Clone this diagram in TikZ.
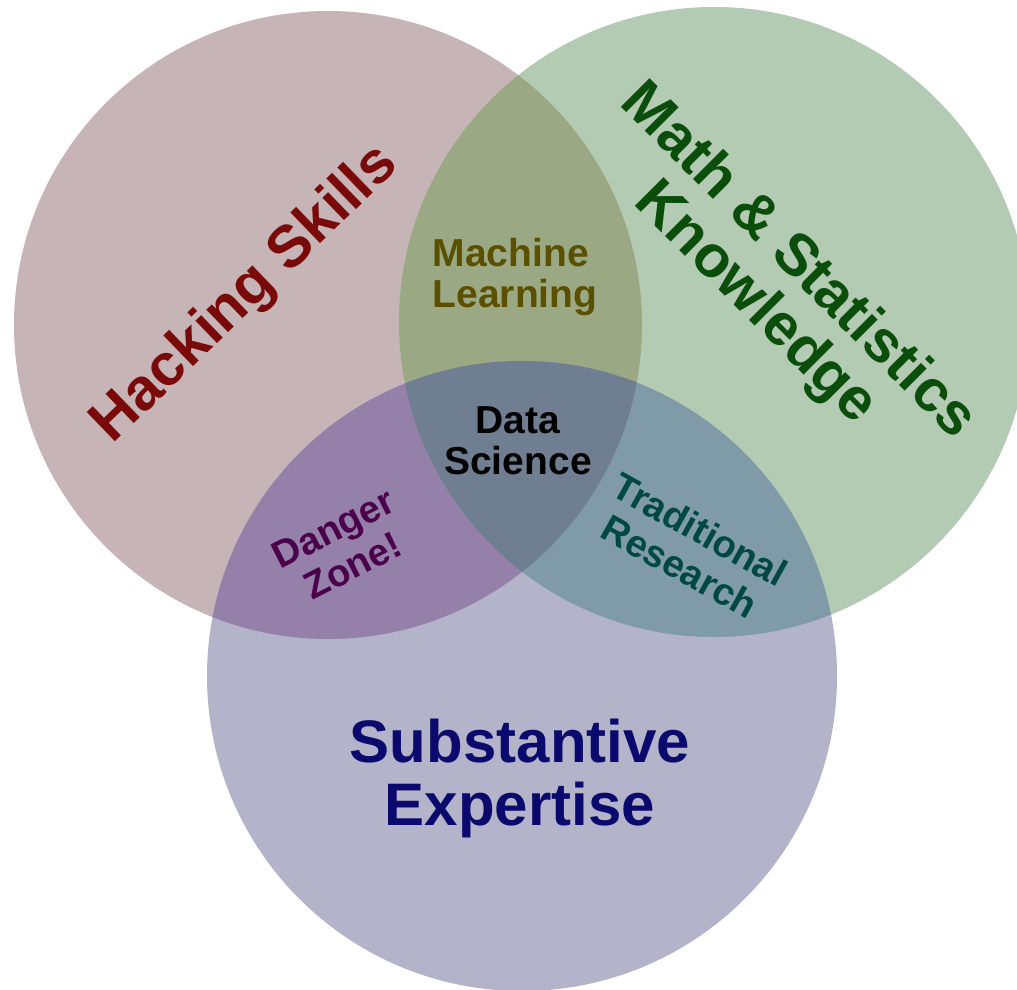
\documentclass[tikz,border=0pt]{standalone}
\usepackage{fontspec}
\setmainfont{Liberation Sans}
\definecolor{cR}{HTML}{C6B4B6}
\definecolor{cG}{HTML}{B3CAB3}
\definecolor{cB}{HTML}{B3B3CA}
\definecolor{cRG}{HTML}{9AA883}
\definecolor{cRB}{HTML}{9580A9}
\definecolor{cGB}{HTML}{7F9BA8}
\definecolor{cRGB}{HTML}{6F7F91}
\definecolor{tR}{HTML}{7A0A0A}
\definecolor{tG}{HTML}{0B4D0B}
\definecolor{tB}{HTML}{0A0A6E}
\definecolor{tRG}{HTML}{5A5000}
\definecolor{tRB}{HTML}{4B004B}
\definecolor{tGB}{HTML}{004848}
\begin{document}
\begin{tikzpicture}[x=1pt,y=-1pt,
  big/.style={inner sep=0pt,align=center,font=\fontsize{59}{60}\selectfont\bfseries},
  small/.style={inner sep=0pt,align=center,font=\fontsize{39}{41}\selectfont\bfseries},
  tiny/.style={inner sep=0pt,align=center,font=\fontsize{38}{42}\selectfont\bfseries}]
\useasboundingbox (0,0) rectangle (1017,990);
\fill[white] (0,0) rectangle (1017,990);
% base circles
\fill[cR] (328,325) circle[radius=314pt];
\fill[cG] (714,322) circle[radius=315pt];
\fill[cB] (522,676) circle[radius=315pt];
% pairwise overlaps
\begin{scope}
  \clip (328,325) circle[radius=314pt];
  \fill[cRG] (714,322) circle[radius=315pt];
  \fill[cRB] (522,676) circle[radius=315pt];
\end{scope}
\begin{scope}
  \clip (714,322) circle[radius=315pt];
  \fill[cGB] (522,676) circle[radius=315pt];
\end{scope}
\begin{scope}
  \clip (328,325) circle[radius=314pt];
  \clip (714,322) circle[radius=315pt];
  \fill[cRGB] (522,676) circle[radius=315pt];
\end{scope}
% labels
\node[big,text=tR,rotate=44] (hack) at (246,295) {Hacking Skills};
\node[big,text=tG,rotate=-45] (math) at (776,283) {Math \& Statistics\\Knowledge};
\node[big,text=tB,font=\fontsize{60}{63}\selectfont\bfseries] (subst) at (520,778) {Substantive\\Expertise};
\node[small,text=tRG,align=left] (ml) at (515,277) {Machine\\Learning};
\node[small,text=black] (ds) at (518,441) {Data\\Science};
\node[tiny,text=tRB,rotate=27] (dz) at (343,547) {Danger\\Zone!};
\node[tiny,text=tGB,rotate=-29] (tr) at (690,548) {Traditional\\Research};
\end{tikzpicture}
\end{document}
